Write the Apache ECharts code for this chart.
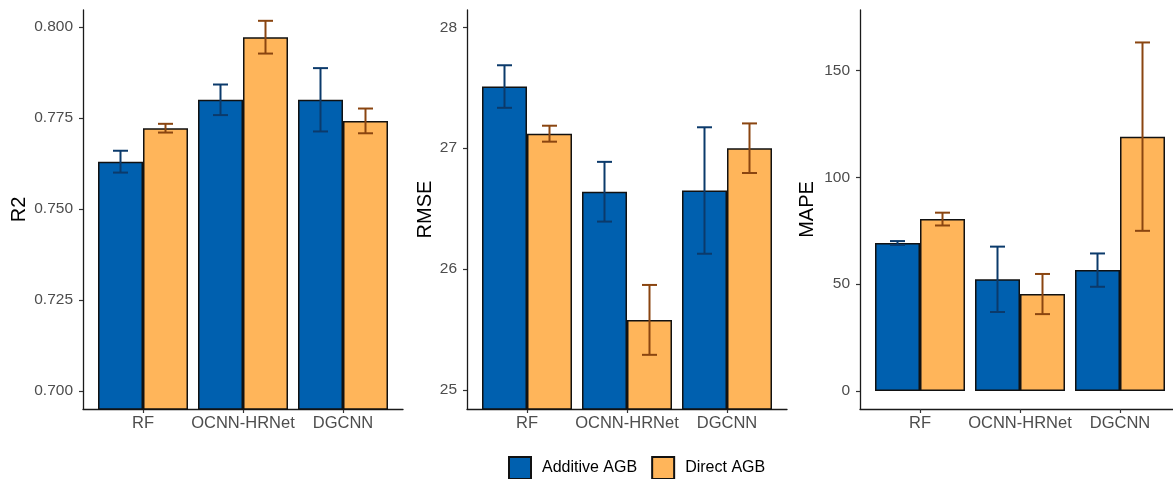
<!DOCTYPE html>
<html>
<head>
<meta charset="utf-8">
<script src="https://cdn.jsdelivr.net/npm/echarts@6/dist/echarts.min.js"></script>
<style>
  html, body { margin: 0; padding: 0; background: #fff; }
  #chart { width: 1173px; height: 479px; }
</style>
</head>
<body>
<div id="chart"></div>
<script>
// Model comparison: mean value and spread for each metric
const categories = ['RF', 'OCNN-HRNet', 'DGCNN'];
const categoryPositions = [1, 2, 3];
const seriesNames = ['Additive AGB', 'Direct AGB'];

const r2Additive = [0.763, 0.780, 0.780];
const r2AdditiveSd = [0.003, 0.0042, 0.0087];
const r2Direct = [0.7722, 0.7972, 0.7742];
const r2DirectSd = [0.0012, 0.0045, 0.0034];

const rmseAdditive = [27.51, 26.64, 26.65];
const rmseAdditiveSd = [0.176, 0.247, 0.523];
const rmseDirect = [27.12, 25.58, 27.00];
const rmseDirectSd = [0.066, 0.289, 0.205];

const mapeAdditive = [69.3, 52.3, 56.6];
const mapeAdditiveSd = [0.9, 15.3, 7.8];
const mapeDirect = [80.5, 45.4, 119.1];
const mapeDirectSd = [3.0, 9.4, 44.1];

const r2Ticks = [0.700, 0.725, 0.750, 0.775, 0.800];
const rmseTicks = [25, 26, 27, 28];
const mapeTicks = [0, 50, 100, 150];

const FONT = 'Liberation Sans, Arial, sans-serif';
const BLUE = '#0060AF';
const ORANGE = '#FFB55A';
const BLUE_ERR = '#0B3A6B';
const ORANGE_ERR = '#8A4510';

// the third panel runs a few pixels past the right edge of the canvas
const panels = [
  { title: 'R2', add: r2Additive, addSd: r2AdditiveSd, dir: r2Direct, dirSd: r2DirectSd,
    ticks: r2Ticks, min: 0.69505, max: 0.80467, digits: 3, left: 83, nameGap: 54 },
  { title: 'RMSE', add: rmseAdditive, addSd: rmseAdditiveSd, dir: rmseDirect, dirSd: rmseDirectSd,
    ticks: rmseTicks, min: 24.843, max: 28.143, digits: 0, left: 467, nameGap: 32 },
  { title: 'MAPE', add: mapeAdditive, addSd: mapeAdditiveSd, dir: mapeDirect, dirSd: mapeDirectSd,
    ticks: mapeTicks, min: -8.43, max: 178.4, digits: 0, left: 860, nameGap: 43 }
];

const grids = [], xAxes = [], yAxes = [], series = [];

function errorSeries(idx, values, sds, side, color) {
  return {
    type: 'custom',
    xAxisIndex: idx,
    yAxisIndex: idx,
    z: 5,
    silent: true,
    data: values.map((v, i) => [categoryPositions[i], v - sds[i], v + sds[i]]),
    renderItem: function (params, api) {
      const unit = api.size([1, 0])[0];
      const dx = side * unit * 0.225;
      const lo = api.coord([api.value(0), api.value(1)]);
      const hi = api.coord([api.value(0), api.value(2)]);
      const x = lo[0] + dx;
      const half = unit * 0.075;
      const style = { stroke: color, lineWidth: 2, fill: null };
      return {
        type: 'group',
        children: [
          { type: 'line', shape: { x1: x, y1: lo[1], x2: x, y2: hi[1] }, style: style },
          { type: 'line', shape: { x1: x - half, y1: lo[1], x2: x + half, y2: lo[1] }, style: style },
          { type: 'line', shape: { x1: x - half, y1: hi[1], x2: x + half, y2: hi[1] }, style: style }
        ]
      };
    }
  };
}

panels.forEach((p, idx) => {
  grids.push({
    left: p.left, width: 320, top: 10, height: 399,
    containLabel: false, outerBoundsMode: 'none'
  });
  xAxes.push({
    type: 'value',
    gridIndex: idx,
    min: 0.4,
    max: 3.6,
    splitLine: { show: false },
    axisLine: { show: true, onZero: false, lineStyle: { color: '#1a1a1a', width: 1.3 } },
    axisTick: { show: true, length: 4, customValues: categoryPositions, lineStyle: { color: '#333', width: 1.2 } },
    axisLabel: {
      color: '#4D4D4D', fontSize: 16.5, fontFamily: FONT, margin: 6,
      customValues: categoryPositions,
      formatter: v => categories[Math.round(v) - 1]
    }
  });
  yAxes.push({
    type: 'value',
    gridIndex: idx,
    min: p.min,
    max: p.max,
    name: p.title,
    nameLocation: 'middle',
    nameGap: p.nameGap,
    nameTextStyle: { color: '#000', fontSize: 20, fontFamily: FONT },
    splitLine: { show: false },
    axisLine: { show: true, onZero: false, lineStyle: { color: '#1a1a1a', width: 1.3 } },
    axisTick: { show: true, length: 4, customValues: p.ticks, lineStyle: { color: '#333', width: 1.2 } },
    axisLabel: {
      color: '#4D4D4D', fontSize: 15.5, fontFamily: FONT, margin: 10,
      customValues: p.ticks,
      formatter: v => Number(v).toFixed(p.digits)
    }
  });
  const barBase = {
    type: 'bar',
    xAxisIndex: idx,
    yAxisIndex: idx,
    barWidth: 45,
    barGap: '0%',
    z: 2
  };
  series.push(Object.assign({}, barBase, {
    name: seriesNames[0],
    data: p.add.map((v, i) => [categoryPositions[i], v]),
    itemStyle: { color: BLUE, borderColor: '#111', borderWidth: 1.5 }
  }));
  series.push(Object.assign({}, barBase, {
    name: seriesNames[1],
    data: p.dir.map((v, i) => [categoryPositions[i], v]),
    itemStyle: { color: ORANGE, borderColor: '#111', borderWidth: 1.5 }
  }));
  series.push(errorSeries(idx, p.add, p.addSd, -1, BLUE_ERR));
  series.push(errorSeries(idx, p.dir, p.dirSd, 1, ORANGE_ERR));
});

const chart = echarts.init(document.getElementById('chart'), null, { renderer: 'canvas' });
chart.setOption({
  animation: false,
  backgroundColor: '#fff',
  textStyle: { fontFamily: FONT },
  grid: grids,
  xAxis: xAxes,
  yAxis: yAxes,
  legend: {
    data: seriesNames,
    left: 508,
    top: 456,
    padding: 0,
    itemWidth: 22,
    itemHeight: 22,
    itemGap: 14,
    icon: 'rect',
    textStyle: { color: '#000', fontSize: 16, fontFamily: FONT, padding: [0, 0, 0, 6] }
  },
  series: series
});
</script>
</body>
</html>
